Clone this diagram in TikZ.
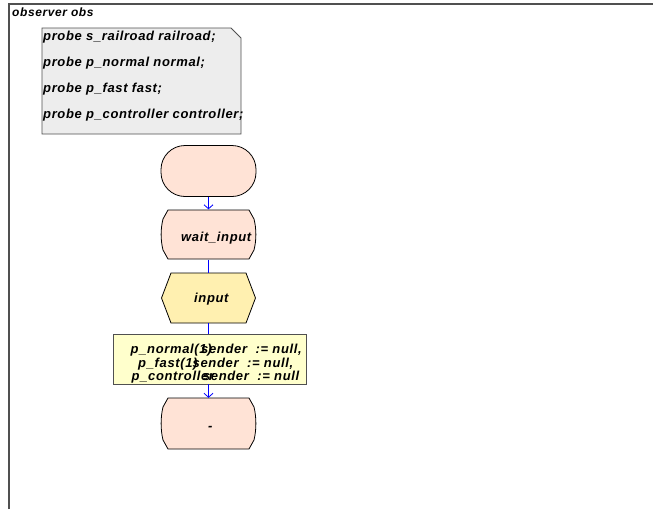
\documentclass[tikz,border=0pt]{standalone}
\usepackage{fontspec}
\setmainfont{Liberation Sans}
\newfontfamily\df[LetterSpace=5]{Liberation Sans}
\usetikzlibrary{arrows.meta}
\definecolor{peach}{HTML}{FFE3D6}
\definecolor{hexy}{HTML}{FFF0B0}
\definecolor{taskc}{HTML}{FFFFCC}
\definecolor{notec}{HTML}{EDEDED}
\definecolor{framec}{HTML}{505050}
\definecolor{flowc}{HTML}{0000FF}
\begin{document}
\begin{tikzpicture}[x=1pt,y=-1pt,
  lbl/.style={font=\df\bfseries\itshape\fontsize{13}{15}\selectfont, inner sep=0pt, anchor=base west},
  lble/.style={lbl, anchor=base east},
  ttl/.style={font=\df\bfseries\itshape\fontsize{12}{14}\selectfont, inner sep=0pt, anchor=base west},
  hold/.style={inner sep=0pt, draw=none, minimum width=95pt, minimum height=50pt},
  shp/.style={draw=black, line width=0.8pt},
  flow/.style={draw=flowc, line width=0.8pt},
  arr/.style={flow, -{Straight Barb[length=4pt,width=9pt]}}
]
\useasboundingbox (0,0) rectangle (653,509);
\fill[white] (0,0) rectangle (653,509);
% frame
\draw[framec, line width=1.5pt] (9,509) -- (9,4) -- (653,4);
\node[ttl] (title) at (12,16.5) {observer obs};

% note
\node[hold, minimum width=199pt, minimum height=106pt] (note) at (141.5,81) {};
\draw[draw=framec, line width=0.8pt, fill=notec] (42,28) -- (231,28) -- (241,38) -- (241,134) -- (42,134) -- cycle;
\node[lbl] (n1) at (43,40.5) {probe s\_railroad railroad;};
\node[lbl] (n2) at (43,66.5) {probe p\_normal normal;};
\node[lbl] (n3) at (43,92.5) {probe p\_fast fast;};
\node[lbl] (n4) at (43,118.5) {probe p\_controller controller;};

% start
\node[shp, fill=peach, rounded corners=24pt, minimum width=95pt, minimum height=51pt, inner sep=0pt] (start) at (208.5,171) {};

% wait_input
\node[hold] (wait) at (208.5,234.5) {};
\draw[shp, fill=peach] (168,210) -- (249,210) -- (254,219) .. controls (256.5,229) and (256.5,240) .. (254,250) -- (249,259) -- (168,259) -- (163,250) .. controls (160.5,240) and (160.5,229) .. (163,219) -- cycle;
\node[lbl] (twait) at (181,241.5) {wait\_input};

% input
\node[hold] (inp) at (208.5,298) {};
\draw[shp, fill=hexy] (171,273) -- (246,273) -- (255.5,298) -- (246,323) -- (171,323) -- (161.5,298) -- cycle;
\node[lbl] (tinp) at (194,302.5) {input};

% task
\node[draw=framec, line width=0.8pt, fill=taskc, minimum width=193pt, minimum height=50pt, inner sep=0pt] (task) at (209.5,359) {};
\node[lbl] (a1) at (130.5,353.5) {p\_normal(1)};
\node[lble] (b1) at (302,353.5) {sender\ \ := null,};
\node[lbl] (a2) at (138,367) {p\_fast(1)};
\node[lble] (b2) at (293.5,367) {sender\ \ := null,};
\node[lbl] (a3) at (131.5,380.5) {p\_controller};
\node[lble] (b3) at (299.5,380.5) {sender\ \ := null};

% end
\node[hold, minimum height=51pt] (endn) at (208.5,423.5) {};
\draw[shp, fill=peach] (168,398) -- (249,398) -- (254,407) .. controls (256.5,417) and (256.5,430) .. (254,440) -- (249,449) -- (168,449) -- (163,440) .. controls (160.5,430) and (160.5,417) .. (163,407) -- cycle;
\node[lbl] (tend) at (208,430.5) {-};

% connectors
\draw[arr] (start.south) -- (wait.north);
\draw[flow] (wait.south) -- (inp.north);
\draw[flow] (inp.south) -- (inp.south |- task.north);
\draw[arr] (task.south -| inp.south) -- (endn.north);
\end{tikzpicture}
\end{document}
